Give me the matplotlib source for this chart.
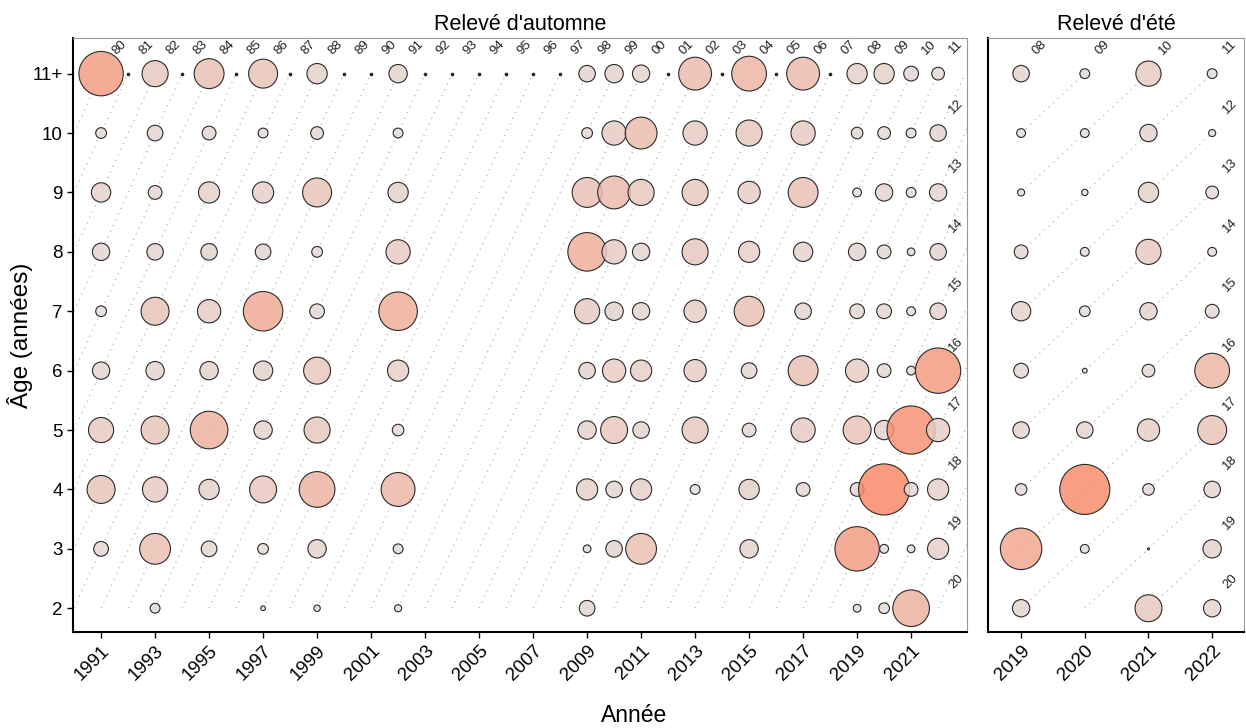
import numpy as np
import matplotlib.pyplot as plt
from matplotlib.colors import LinearSegmentedColormap

plt.rcParams['font.family'] = ['Liberation Sans', 'DejaVu Sans']

# age classes (last one is the 11+ group)
ages = [2, 3, 4, 5, 6, 7, 8, 9, 10, 11]
age_labels = ['2', '3', '4', '5', '6', '7', '8', '9', '10', '11+']

# autumn survey: relative abundance index by year, ages 2..11+ (None = no catch)
autumn_years = [1991, 1993, 1995, 1997, 1999, 2002, 2009, 2010,
                2011, 2013, 2015, 2017, 2019, 2020, 2021, 2022]
autumn_index = [
    [None, 2.3, 8.4, 6.8, 3.2, 1.2, 3.2, 4.0, 1.2, 21.2],
    [1.0, 10.2, 6.8, 8.4, 3.6, 8.4, 2.9, 2.0, 2.6, 7.3],
    [None, 2.6, 4.4, 15.2, 3.6, 5.8, 2.9, 4.8, 2.0, 9.6],
    [0.2, 1.2, 7.8, 3.6, 4.0, 16.8, 2.6, 4.8, 1.0, 9.0],
    [0.4, 3.6, 13.7, 7.3, 7.8, 2.3, 1.2, 9.0, 1.7, 4.4],
    [0.5, 1.0, 12.3, 1.4, 4.8, 16.0, 6.3, 4.4, 1.0, 3.6],
    [2.6, 0.6, 4.8, 3.6, 2.9, 6.8, 16.0, 9.6, 1.2, 2.9],
    [None, 2.9, 2.9, 7.8, 5.8, 3.6, 6.3, 11.6, 6.3, 3.6],
    [None, 10.2, 4.8, 2.9, 4.8, 3.2, 3.2, 7.3, 10.9, 3.2],
    [None, None, 1.0, 7.3, 5.3, 5.3, 7.3, 7.3, 6.3, 11.6],
    [None, 3.6, 4.4, 2.0, 2.6, 9.6, 4.8, 5.3, 7.3, 13.0],
    [None, None, 2.0, 6.3, 9.6, 2.9, 4.0, 9.6, 6.3, 11.6],
    [0.6, 21.2, 2.0, 8.4, 5.8, 2.3, 3.2, 0.8, 1.4, 4.4],
    [1.2, 0.8, 28.1, 4.0, 2.0, 2.3, 2.0, 3.2, 1.7, 4.4],
    [14.4, 0.6, 2.0, 25.0, 0.8, 0.8, 0.6, 1.0, 1.0, 2.3],
    [None, 4.8, 4.8, 5.8, 22.1, 2.9, 2.9, 3.2, 2.9, 1.7],
]

# summer survey
summer_years = [2019, 2020, 2021, 2022]
summer_index = [
    [3.2, 18.5, 1.4, 2.9, 2.3, 4.0, 2.0, 0.5, 0.8, 2.9],
    [None, 0.8, 27.0, 2.9, 0.2, 1.2, 0.8, 0.4, 0.8, 1.0],
    [7.8, 0.0, 1.4, 5.3, 1.7, 3.2, 6.8, 4.4, 3.2, 6.8],
    [3.2, 3.6, 2.9, 9.0, 13.0, 2.0, 0.8, 1.7, 0.5, 1.0],
]

autumn_cohorts = list(range(1980, 2021))
summer_cohorts = list(range(2008, 2021))
last_year = 2022

vmax = max(v for rows in (autumn_index, summer_index) for r in rows for v in r if v is not None)
cmap = LinearSegmentedColormap.from_list('fond', ['#e3dedd', '#f88a67'])
norm = plt.Normalize(0, vmax)

fig = plt.figure(figsize=(12.46, 7.28), dpi=100)
W, H = 1246, 728
bottom, top = 632, 38
ax1 = fig.add_axes([73 / W, (H - bottom) / H, (967 - 73) / W, (bottom - top) / H])
ax2 = fig.add_axes([988 / W, (H - bottom) / H, (1244 - 988) / W, (bottom - top) / H])

dot_style = dict(color='#b4b4b4', lw=0.9, linestyle=(0, (1, 4)), zorder=1)


def bubbles(ax, years, index):
    xs, ys, vs = [], [], []
    for yr, row in zip(years, index):
        for age, v in zip(ages, row):
            if v is None:
                continue
            xs.append(yr)
            ys.append(age)
            vs.append(v)
    vs = np.array(vs)
    fc = cmap(norm(vs))
    fc[:, 3] = 0.85
    ax.scatter(xs, ys, s=2 + 48 * vs, facecolors=fc, edgecolors='#2b2b2b',
               linewidths=0.8, zorder=3)


def cohort_labels(ax, cohorts):
    for c in cohorts:
        xa = min(last_year, c + 11)
        ax.annotate(f"{c % 100:02d}", (xa, xa - c), xytext=(13, 19),
                    textcoords='offset points', rotation=45, ha='center',
                    va='center', fontsize=9.5, color='#222222',
                    annotation_clip=False)


# autumn panel: full cohort diagonals
for c in autumn_cohorts:
    ax1.plot([c + 2, c + 11], [2, 11], **dot_style)
missing = [y for y in range(autumn_years[0], last_year + 1) if y not in autumn_years]
ax1.plot(missing, [11] * len(missing), 'o', ms=1.6, color='#222222', zorder=2)
bubbles(ax1, autumn_years, autumn_index)
cohort_labels(ax1, autumn_cohorts)

# summer panel: diagonals only across surveyed years
for c in summer_cohorts:
    x0 = max(summer_years[0], c + 2)
    x1 = min(summer_years[-1], c + 11)
    if x1 > x0:
        ax2.plot([x0, x1], [x0 - c, x1 - c], **dot_style)
bubbles(ax2, summer_years, summer_index)
cohort_labels(ax2, summer_cohorts)

ax1.set_xlim(1989.96, 2023.07)
ax2.set_xlim(2018.48, 2022.5)
for ax in (ax1, ax2):
    ax.set_ylim(1.6, 11.6)
    for side in ('left', 'bottom'):
        ax.spines[side].set_color('black')
        ax.spines[side].set_linewidth(1.5)
    for side in ('top', 'right'):
        ax.spines[side].set_color('#999999')
        ax.spines[side].set_linewidth(0.8)
    ax.tick_params(length=4, width=1, labelsize=13.5, colors='black')

ax1.set_yticks(ages)
ax1.set_yticklabels(age_labels)
ax1.set_xticks(range(1991, 2022, 2))
ax2.set_xticks(summer_years)
ax2.set_yticks(ages)
ax2.tick_params(axis='y', left=False, labelleft=False)
for ax in (ax1, ax2):
    plt.setp(ax.get_xticklabels(), rotation=45, ha='right', va='top',
             rotation_mode='anchor')

ax1.set_title("Relevé d'automne", fontsize=15.5, pad=6)
ax2.set_title("Relevé d'été", fontsize=15.5, pad=6)
fig.text(634 / W, 1 - 715 / H, 'Année', ha='center', va='center', fontsize=16.5)
fig.text(20 / W, 1 - 335 / H, 'Âge (années)', ha='center', va='center',
         rotation=90, fontsize=17.5)

fig.savefig('out.png', dpi=100)
